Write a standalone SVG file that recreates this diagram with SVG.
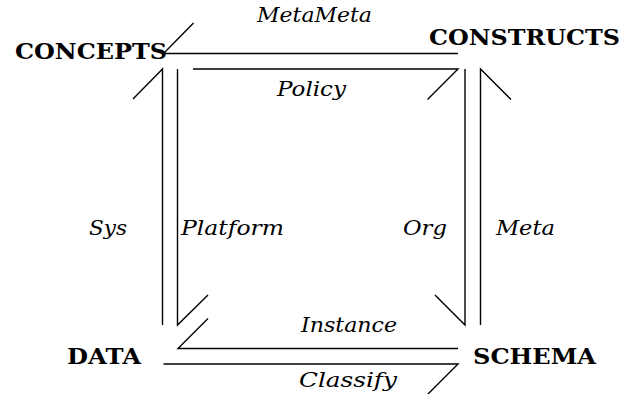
<svg xmlns="http://www.w3.org/2000/svg" width="624" height="394" viewBox="0 0 624 394">
  <style>
    .obj { font-family: "DejaVu Serif", serif; font-weight: bold; font-size: 22px; fill: #000; }
    .lbl { font-family: "DejaVu Serif", serif; font-style: italic; font-size: 20px; fill: #000; }
    .ln { stroke: #000; stroke-width: 1.4; fill: none; stroke-linecap: butt; }
  </style>
  <rect width="624" height="394" fill="#fff"/>

  <g id="concepts"><text class="obj" x="15" y="59" textLength="152" lengthAdjust="spacingAndGlyphs">CONCEPTS</text></g>
  <g id="constructs"><text class="obj" x="429" y="45" textLength="191" lengthAdjust="spacingAndGlyphs">CONSTRUCTS</text></g>
  <g id="data"><text class="obj" x="67" y="364" textLength="74" lengthAdjust="spacingAndGlyphs">DATA</text></g>
  <g id="schema"><text class="obj" x="473" y="364" textLength="123" lengthAdjust="spacingAndGlyphs">SCHEMA</text></g>

  <g id="connectors">
    <!-- MetaMeta: CONSTRUCTS to CONCEPTS -->
    <path class="ln" d="M458 53.5 H163.5 L193.5 23"/>
    <!-- Policy: CONCEPTS to CONSTRUCTS -->
    <path class="ln" d="M193 69 H458 L427.5 99.5"/>
    <!-- Sys: DATA to CONCEPTS -->
    <path class="ln" d="M162.5 325 V69 L133 99"/>
    <!-- Platform: CONCEPTS to DATA -->
    <path class="ln" d="M177.5 69 V325 L208 295"/>
    <!-- Org: CONSTRUCTS to SCHEMA -->
    <path class="ln" d="M465 69 V325 L435 295"/>
    <!-- Meta: SCHEMA to CONSTRUCTS -->
    <path class="ln" d="M480.5 325 V69 L511 99.5"/>
    <!-- Instance: SCHEMA to DATA -->
    <path class="ln" d="M458 348.5 H178 L208 318.5"/>
    <!-- Classify: DATA to SCHEMA -->
    <path class="ln" d="M163.5 364 H458 L427.5 394.5"/>

    <text class="lbl" x="257" y="22" textLength="115" lengthAdjust="spacingAndGlyphs">MetaMeta</text>
    <text class="lbl" x="277" y="96" textLength="69" lengthAdjust="spacingAndGlyphs">Policy</text>
    <text class="lbl" x="89" y="235" textLength="38" lengthAdjust="spacingAndGlyphs">Sys</text>
    <text class="lbl" x="181" y="235" textLength="103" lengthAdjust="spacingAndGlyphs">Platform</text>
    <text class="lbl" x="403" y="235" textLength="44" lengthAdjust="spacingAndGlyphs">Org</text>
    <text class="lbl" x="496" y="235" textLength="59" lengthAdjust="spacingAndGlyphs">Meta</text>
    <text class="lbl" x="301" y="332" textLength="96" lengthAdjust="spacingAndGlyphs">Instance</text>
    <text class="lbl" x="299" y="387" textLength="98" lengthAdjust="spacingAndGlyphs">Classify</text>
  </g>
</svg>
